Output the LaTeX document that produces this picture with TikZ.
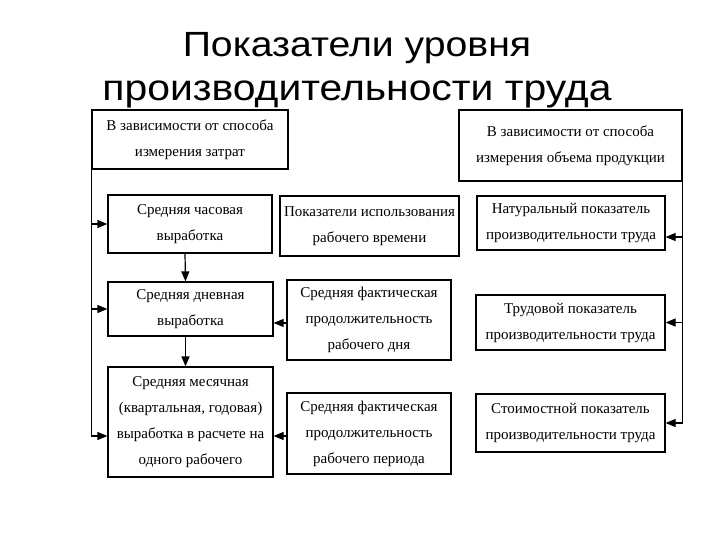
\documentclass[tikz,border=0pt]{standalone}
\usepackage{fontspec}
\setmainfont{Liberation Serif}
\newfontfamily\titlefont[FakeStretch=1.12]{Liberation Sans}
\usetikzlibrary{arrows.meta}
\begin{document}
\begin{tikzpicture}[x=1pt,y=-1pt,
  box/.style={draw,line width=1.2pt,inner sep=0pt,align=center,
    font=\fontsize{15}{26}\selectfont},
  conn/.style={line width=1.2pt,-{Triangle[length=10pt,width=8pt]}},
  ttl/.style={font=\titlefont,anchor=base,inner sep=0pt}]
\useasboundingbox[fill=white] (0,0) rectangle (720,540);
\node[ttl,font=\titlefont\fontsize{35}{40}\selectfont] (t1) at (357,57) {Показатели уровня};
\node[ttl,font=\titlefont\fontsize{36.5}{40}\selectfont] (t2) at (357,101) {производительности труда};
\node[box,minimum width=196pt,minimum height=59pt] (A) at (190,139.5) {В зависимости от способа\\измерения затрат};
\node[box,minimum width=223pt,minimum height=71pt] (B) at (570.5,145.5) {В зависимости от способа\\измерения объема продукции};
\node[box,minimum width=164pt,minimum height=58pt] (L1) at (190,224) {Средняя часовая\\выработка};
\node[box,minimum width=179pt,minimum height=60pt] (M1) at (369.5,226) {Показатели использования\\рабочего времени};
\node[box,minimum width=188pt,minimum height=54pt] (R1) at (571,223) {Натуральный показатель\\производительности труда};
\node[box,minimum width=165pt,minimum height=54pt] (L2) at (190.5,309) {Средняя дневная\\выработка};
\node[box,minimum width=164pt,minimum height=80pt] (M2) at (369,320) {Средняя фактическая\\продолжительность\\рабочего дня};
\node[box,minimum width=189pt,minimum height=55pt] (R2) at (570.5,322.5) {Трудовой показатель\\производительности труда};
\node[box,minimum width=165pt,minimum height=110pt] (L3) at (190.5,422) {Средняя месячная\\(квартальная, годовая)\\выработка в расчете на\\одного рабочего};
\node[box,minimum width=164pt,minimum height=81pt] (M3) at (369,433.5) {Средняя фактическая\\продолжительность\\рабочего периода};
\node[box,minimum width=189pt,minimum height=58pt] (R3) at (570.5,423) {Стоимостной показатель\\производительности труда};
% left feed
\draw[conn] (A.south west) |- (L1.west);
\draw[conn] (A.south west) |- (L2.west);
\draw[conn] (A.south west) |- ([yshift=-14pt]L3.west);
% right feed
\draw[conn] (B.south east) |- ([yshift=-14pt]R1.east);
\draw[conn] (B.south east) |- (R2.east);
\draw[conn] (B.south east) |- (R3.east);
% vertical chain
\draw[conn] ([xshift=-5pt]L1.south) -- ([xshift=-5pt]L2.north);
\draw[conn] ([xshift=-5pt]L2.south) -- ([xshift=-5pt]L3.north);
% middle to left
\draw[conn] ([yshift=-3pt]M2.west) -- ([yshift=-3pt]M2.west -| L2.east);
\draw[conn] ([yshift=-2.5pt]M3.west) -- ([yshift=-2.5pt]M3.west -| L3.east);
\end{tikzpicture}
\end{document}
